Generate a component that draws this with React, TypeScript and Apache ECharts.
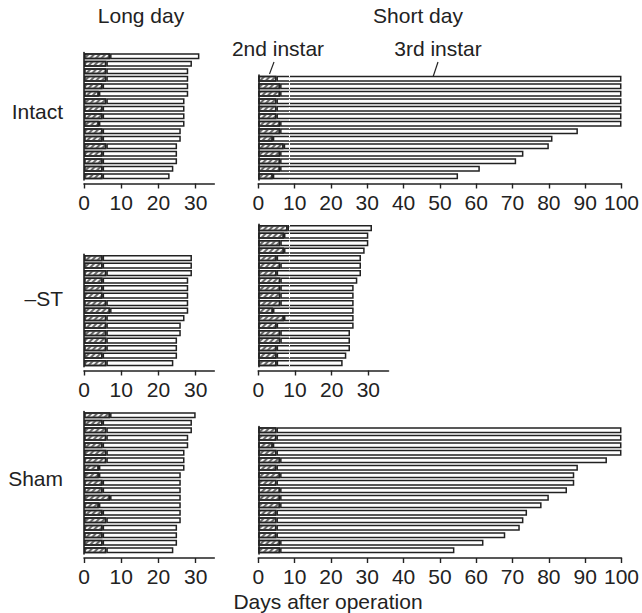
import React, { useEffect, useRef } from "react";
import * as echarts from "echarts";

// ---- data (days after operation) ----
const intactLongStage2 = [7, 6, 6, 6, 5, 4, 6, 5, 5, 4, 5, 5, 6, 5, 5, 5, 5];
const intactLongTotal = [31, 29, 28, 28, 28, 28, 27, 27, 27, 27, 26, 26, 25, 25, 25, 24, 23];
const intactShortStage2 = [5, 6, 6, 5, 5, 5, 6, 6, 4, 7, 6, 6, 6, 4];
const intactShortTotal = [100, 100, 100, 100, 100, 100, 100, 88, 81, 80, 73, 71, 61, 55];
const stLongStage2 = [5, 5, 6, 5, 5, 5, 6, 7, 6, 6, 6, 6, 6, 5, 6];
const stLongTotal = [29, 29, 29, 28, 28, 28, 28, 28, 27, 26, 26, 25, 25, 25, 24];
const stShortStage2 = [8, 7, 6, 7, 5, 6, 5, 6, 6, 6, 6, 4, 7, 5, 6, 6, 5, 5, 5];
const stShortTotal = [31, 30, 30, 29, 28, 28, 28, 27, 26, 26, 26, 26, 26, 26, 25, 25, 25, 24, 23];
const shamLongStage2 = [7, 5, 6, 6, 5, 6, 6, 4, 4, 5, 5, 7, 4, 5, 6, 5, 5, 5, 6];
const shamLongTotal = [30, 29, 29, 28, 28, 27, 27, 27, 26, 26, 26, 26, 26, 26, 26, 25, 25, 25, 24];
const shamShortStage2 = [5, 5, 4, 5, 6, 5, 6, 5, 6, 6, 6, 5, 5, 5, 5, 6, 6];
const shamShortTotal = [100, 100, 100, 100, 96, 88, 87, 87, 85, 80, 78, 74, 73, 72, 68, 62, 54];

const shortTicks = [0, 10, 20, 30, 40, 50, 60, 70, 80, 90, 100];
const longTicks = [0, 10, 20, 30];

const rowLabels = ["Intact", "\u2013ST", "Sham"];
const columnLabels = ["Long day", "Short day"];
const stageLabels = ["2nd instar", "3rd instar"];
const xTitle = "Days after operation";

const INK = "#222";
const FONT = "'Liberation Sans', Arial, Helvetica, sans-serif";
const PITCH = 7.5;

type Panel = {
  stage2: number[];
  total: number[];
  left: number;
  width: number;
  max: number;
  bottom: number;
  axisY: number;
  ticks: number[];
  artifact: boolean;
};

const LD_LEFT = 84;
const LD_W = 130.3;
const SD_LEFT = 258.3;
const SD_W = 366.7;
const SD_SHORT_W = 130.2;

const rows = [
  { bottom: 180, axisY: 183.5 },
  { bottom: 366.8, axisY: 370.5 },
  { bottom: 554, axisY: 558 },
];

const panels: Panel[] = [
  { stage2: intactLongStage2, total: intactLongTotal, left: LD_LEFT, width: LD_W, max: 35, ...rows[0], ticks: longTicks, artifact: false },
  { stage2: intactShortStage2, total: intactShortTotal, left: SD_LEFT, width: SD_W, max: 100, ...rows[0], ticks: shortTicks, artifact: true },
  { stage2: stLongStage2, total: stLongTotal, left: LD_LEFT, width: LD_W, max: 35, ...rows[1], ticks: longTicks, artifact: false },
  { stage2: stShortStage2, total: stShortTotal, left: SD_LEFT, width: SD_SHORT_W, max: 35.5, ...rows[1], ticks: longTicks, artifact: true },
  { stage2: shamLongStage2, total: shamLongTotal, left: LD_LEFT, width: LD_W, max: 35, ...rows[2], ticks: longTicks, artifact: false },
  { stage2: shamShortStage2, total: shamShortTotal, left: SD_LEFT, width: SD_W, max: 100, ...rows[2], ticks: shortTicks, artifact: false },
];

const hatch = {
  symbol: "rect",
  symbolSize: 1,
  color: "#666",
  backgroundColor: "#f2f2f2",
  dashArrayX: [1, 0],
  dashArrayY: [1.1, 1.9],
  rotation: -Math.PI / 4,
};

function buildOption() {
  const grid: any[] = [];
  const xAxis: any[] = [];
  const yAxis: any[] = [];
  const series: any[] = [];
  panels.forEach((p, i) => {
    const n = p.total.length;
    const h = n * PITCH;
    grid.push({ left: p.left, top: p.bottom - h, width: p.width, height: h, containLabel: false });
    xAxis.push({
      gridIndex: i,
      type: "value",
      min: 0,
      max: p.max,
      offset: p.axisY - p.bottom,
      axisLine: { show: true, lineStyle: { color: INK, width: 1.6 } },
      axisTick: { show: true, length: 5, customValues: p.ticks, lineStyle: { color: INK, width: 1.4 } },
      axisLabel: { show: true, customValues: p.ticks, fontSize: 21, color: INK, fontFamily: FONT, margin: 8 },
      splitLine: { show: false },
    });
    yAxis.push({
      gridIndex: i,
      type: "category",
      inverse: true,
      data: p.total.map((_, k) => String(k + 1)),
      axisLine: { show: true, lineStyle: { color: INK, width: 1.6 } },
      axisTick: { show: false },
      axisLabel: { show: false },
      splitLine: { show: false },
    });
    series.push({
      type: "bar",
      name: "2nd instar",
      xAxisIndex: i,
      yAxisIndex: i,
      stack: "s" + i,
      barWidth: 6.2,
      data: p.stage2,
      itemStyle: { color: "#f2f2f2", borderColor: INK, borderWidth: 1.5, decal: hatch },
      emphasis: { disabled: true },
    });
    const s3: any = {
      type: "bar",
      name: "3rd instar",
      xAxisIndex: i,
      yAxisIndex: i,
      stack: "s" + i,
      barWidth: 6.2,
      data: p.total.map((t, k) => t - p.stage2[k]),
      itemStyle: { color: "#fff", borderColor: INK, borderWidth: 1.5 },
      emphasis: { disabled: true },
    };
    if (p.artifact) {
      s3.markLine = {
        silent: true,
        symbol: "none",
        label: { show: false },
        lineStyle: { color: "#fff", type: [2, 2], width: 1 },
        data: [{ xAxis: 8.5 }],
      };
    }
    series.push(s3);
  });

  const textStyle = (x: number, y: number, text: string, align: string = "center") => ({
    type: "text",
    x,
    y,
    style: { text, fill: INK, fontSize: 21, fontFamily: FONT, align, verticalAlign: "middle" },
  });

  const graphic: any[] = [
    textStyle(141, 15, columnLabels[0]),
    textStyle(418, 15, columnLabels[1]),
    textStyle(278, 48, stageLabels[0]),
    textStyle(438, 48, stageLabels[1]),
    textStyle(63, 111, rowLabels[0], "right"),
    textStyle(63, 298, rowLabels[1], "right"),
    textStyle(63, 478, rowLabels[2], "right"),
    textStyle(328, 601, xTitle),
    { type: "line", shape: { x1: 274, y1: 62, x2: 269.5, y2: 74 }, style: { stroke: INK, lineWidth: 1.2 } },
    { type: "line", shape: { x1: 438, y1: 62, x2: 433, y2: 77 }, style: { stroke: INK, lineWidth: 1.2 } },
  ];

  return {
    animation: false,
    backgroundColor: "#fff",
    grid,
    xAxis,
    yAxis,
    series,
    graphic,
  };
}

export default function App() {
  const ref = useRef<HTMLDivElement>(null);
  useEffect(() => {
    if (!ref.current) return;
    const chart = echarts.init(ref.current, undefined, { renderer: "svg" });
    chart.setOption(buildOption() as any);
    return () => chart.dispose();
  }, []);
  return <div ref={ref} style={{ width: 642, height: 613, position: "absolute", left: 0, top: 0 }} />;
}
